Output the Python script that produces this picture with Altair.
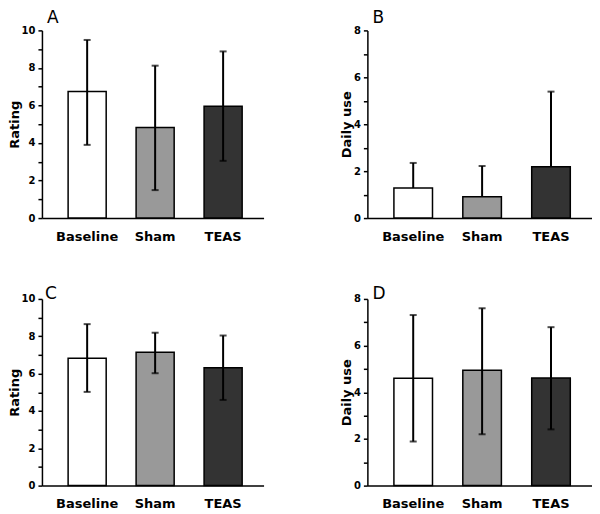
import altair as alt
import pandas as pd

groups = ["Baseline", "Sham", "TEAS"]
colors = ["#ffffff", "#999999", "#333333"]

a_mean = [6.74, 4.82, 5.96]
a_low = [3.90, 1.49, 3.05]
a_high = [9.49, 8.12, 8.88]

b_mean = [1.28, 0.91, 2.19]
b_high = [2.35, 2.22, 5.39]

c_mean = [6.82, 7.14, 6.32]
c_low = [5.02, 6.02, 4.59]
c_high = [8.65, 8.19, 8.04]

d_mean = [4.60, 4.94, 4.61]
d_low = [1.89, 2.20, 2.41]
d_high = [7.31, 7.60, 6.79]

FONT = "DejaVu Sans"


def panel(letter, ytitle, ymax, mean, high, low, width, height, l_x, l_y):
    has_low = low is not None
    df = pd.DataFrame({
        "group": groups,
        "mean": mean,
        "high": high,
        "low": low if has_low else mean,
    })
    xenc = alt.X(
        "group:N", sort=groups, title=None,
        scale=alt.Scale(paddingInner=0.44, paddingOuter=0.35, align=0.55),
        axis=alt.Axis(labelAngle=0, ticks=False, tickSize=0, labelPadding=12,
                      labelFontSize=13, labelFontWeight="bold", labelFont=FONT,
                      labelColor="black", domainColor="black", domainWidth=1.5),
    )
    major = list(range(0, ymax + 1, 2))
    minor = list(range(1, ymax, 2))
    yaxis = alt.Axis(
        values=major, orient="left",
        labelOverlap=False, labelBound=False, labelFlush=False,
        tickSize=4, tickColor="black", tickWidth=1.5,
        labelFontSize=10, labelFontWeight="bold", labelFont=FONT, labelColor="black",
        labelPadding=3, grid=False, domainColor="black", domainWidth=1.5,
        titleFontSize=13, titleFontWeight="bold", titleFont=FONT, titleColor="black",
        titlePadding=0,
    )
    minor_axis = alt.Axis(
        values=minor, orient="left", labels=False, domain=False, grid=False,
        tickSize=4, tickColor="black", tickWidth=1.5, title=None,
    )
    yscale = alt.Scale(domain=[0, ymax], nice=False)
    bars = alt.Chart(df).mark_bar(stroke="black", strokeWidth=1.5).encode(
        x=xenc,
        y=alt.Y("mean:Q", title=ytitle, scale=yscale, axis=yaxis),
        color=alt.Color("group:N", scale=alt.Scale(domain=groups, range=colors), legend=None),
    )
    rule = alt.Chart(df).mark_rule(color="black", strokeWidth=2).encode(
        x=alt.X("group:N", sort=groups, title=None),
        y=alt.Y("low:Q", title=None, axis=minor_axis),
        y2="high:Q",
    )
    cap_hi = alt.Chart(df).mark_tick(color="black", size=7, thickness=2).encode(
        x=alt.X("group:N", sort=groups, title=None),
        y=alt.Y("high:Q", title=None, axis=None),
    )
    layers = [bars, rule, cap_hi]
    if has_low:
        cap_lo = alt.Chart(df).mark_tick(color="black", size=7, thickness=2).encode(
            x=alt.X("group:N", sort=groups, title=None),
            y=alt.Y("low:Q", title=None, axis=None),
        )
        layers.append(cap_lo)
    label = alt.Chart(pd.DataFrame({"letter": [letter]})).mark_text(
        align="left", baseline="alphabetic", fontSize=17, font=FONT, color="black"
    ).encode(text="letter:N", x=alt.value(l_x), y=alt.value(l_y))
    layers.append(label)
    return alt.layer(*layers).resolve_axis(y="independent").properties(
        width=width, height=height)


pa = panel("A", "Rating", 10, a_mean, a_high, a_low, 222, 188, 5, -7)
pb = panel("B", "Daily use", 8, b_mean, b_high, None, 225, 188, 5, -7)
pc = panel("C", "Rating", 10, c_mean, c_high, c_low, 222, 187, 3, 0)
pd_ = panel("D", "Daily use", 8, d_mean, d_high, d_low, 225, 187, 5, 0)

chart = alt.vconcat(
    alt.hconcat(pa, pb, spacing=77),
    alt.hconcat(pc, pd_, spacing=77),
    spacing=42,
).properties(padding={"top": 1, "left": 0, "right": 0, "bottom": 0}).configure_view(stroke=None)

chart.save("out.html", embed_options={"renderer": "svg", "actions": False})
